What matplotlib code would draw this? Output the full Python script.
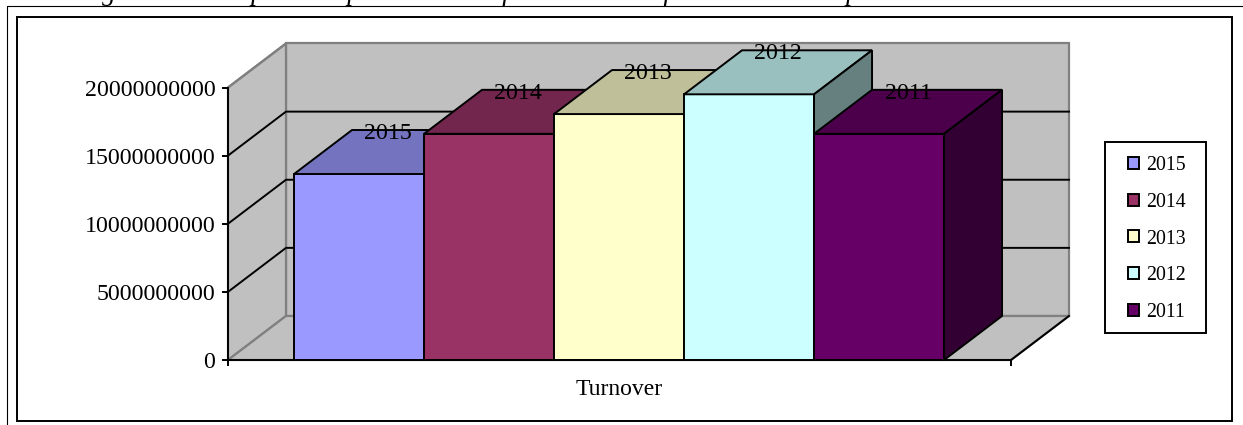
import matplotlib
matplotlib.use('Agg')
from matplotlib import pyplot as plt
from matplotlib.lines import Line2D
from matplotlib.patches import Patch, Polygon, Rectangle

years = ['2015', '2014', '2013', '2012', '2011']
turnover = [13.65e9, 16.6e9, 18.05e9, 19.5e9, 16.6e9]
colors = ['#9999ff', '#993366', '#ffffcc', '#ccffff', '#660066']
top_colors = ['#7373bf', '#73264d', '#bfbf99', '#99bfbf', '#4c004c']
side_colors = ['#4d4d80', '#4d1a33', '#808066', '#668080', '#330033']
yticks = [0, 5000000000, 10000000000, 15000000000, 20000000000]

W, H = 1243, 425
plt.rcParams['font.family'] = ['Liberation Serif', 'DejaVu Serif']

fig = plt.figure(figsize=(W / 100, H / 100), dpi=100)
ax = fig.add_axes([228 / W, 1 - 360 / H, (1011 - 228) / W, (360 - 87.5) / H])
ax.set_xlim(-1.008, 5.015)
ax.set_ylim(0, 20000000000)
ax.patch.set_visible(False)

# fake 3d: how far the back wall is shifted from the front plane, in data units
dx = 0.446
dy = 3.23e9
x0, x1 = ax.get_xlim()
ymax = yticks[-1]
lw = 1.4
gray = '#808080'
wall = '#c0c0c0'

# walls and floor
ax.add_patch(Polygon([(x0 + dx, dy), (x1 + dx, dy), (x1 + dx, ymax + dy), (x0 + dx, ymax + dy)],
                     fc=wall, ec=gray, lw=1.6, clip_on=False, zorder=1))
ax.add_patch(Polygon([(x0, 0), (x0 + dx, dy), (x0 + dx, ymax + dy), (x0, ymax)],
                     fc=wall, ec=gray, lw=1.6, clip_on=False, zorder=1))
ax.add_patch(Polygon([(x0, 0), (x0 + dx, dy), (x1 + dx, dy), (x1, 0)],
                     fc=wall, ec=gray, lw=1.6, clip_on=False, zorder=1))
ax.plot([x1, x1 + dx], [0, dy], color='black', lw=lw, clip_on=False, zorder=1.5)

# grid lines on the walls
for t in yticks[1:-1]:
    ax.plot([x0, x0 + dx, x1 + dx], [t, t + dy, t + dy], color='black', lw=lw,
            clip_on=False, zorder=1.5)
ax.plot([x0, x0 + dx], [ymax, ymax + dy], color=gray, lw=1.6, clip_on=False, zorder=1.5)

# bars, left to right so the nearer faces paint over
for i, v in enumerate(turnover):
    l, r = i - 0.5, i + 0.5
    z = 2 + i
    ax.bar(i, v, width=1, color=colors[i], edgecolor='black', lw=lw, clip_on=False, zorder=z)
    ax.add_patch(Polygon([(l, v), (l + dx, v + dy), (r + dx, v + dy), (r, v)],
                         fc=top_colors[i], ec='black', lw=lw, clip_on=False, zorder=z))
    ax.add_patch(Polygon([(r, 0), (r + dx, dy), (r + dx, v + dy), (r, v)],
                         fc=side_colors[i], ec='black', lw=lw, clip_on=False, zorder=z))
    ax.text(i + dx / 2, v + dy - 0.25e9, years[i], ha='center', va='center', fontsize=17.2, zorder=10)

# axes
for s in ['top', 'right']:
    ax.spines[s].set_visible(False)
for s in ['left', 'bottom']:
    ax.spines[s].set_linewidth(lw)
    ax.spines[s].set_zorder(8)
ax.set_yticks(yticks, [str(t) for t in yticks])
ax.set_xticks([x0, x1], ['', ''])
ax.tick_params(axis='both', length=4, width=lw, labelsize=17.2, pad=5)
ax.set_xlabel('Turnover', fontsize=17, labelpad=5)

# legend, box drawn separately so the side and top padding can differ
handles = [Patch(fc=c, ec='black', lw=lw) for c in colors]
fig.legend(handles, years, loc='center', bbox_to_anchor=(1157 / W, 1 - 239 / H),
           bbox_transform=fig.transFigure, fontsize=14.3, frameon=False,
           handlelength=0.55, handleheight=0.55, handletextpad=0.4,
           labelspacing=0.9, borderpad=0, borderaxespad=0)
fig.add_artist(Rectangle((1105 / W, 1 - 333 / H), 101 / W, 191 / H, fill=False, ec='black', lw=lw,
                         transform=fig.transFigure))

# page frame around the chart
fig.add_artist(Rectangle((16.5 / W, 1 - 421 / H), (1232 - 16.5) / W, (421 - 17) / H, fill=False,
                         ec='black', lw=1.4, transform=fig.transFigure))
fig.add_artist(Line2D([6.5 / W, 6.5 / W, 1], [0, 1 - 6.3 / H, 1 - 6.3 / H], color='black', lw=0.8,
                      transform=fig.transFigure))

# caption, cut off by the top of the picture
fig.text(78 / W, 1 - 0.5 / H, 'Figure 4.3: Graphical representation of distribution of turnover levels per annum 2011 - 2015',
         fontsize=19.5, style='italic', va='baseline')

fig.savefig('out.png', dpi=100)
